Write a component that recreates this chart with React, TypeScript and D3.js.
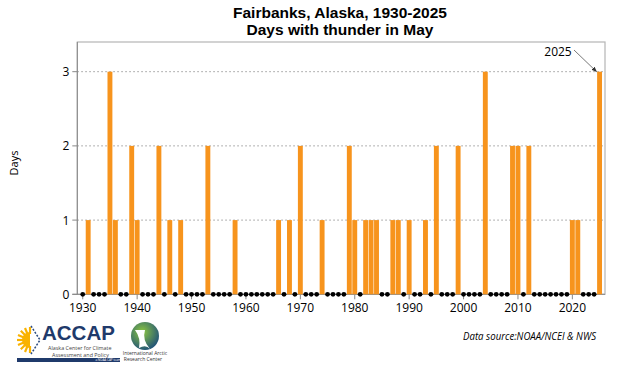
import React from "react";
import * as d3 from "d3";

const titleLines = ["Fairbanks, Alaska, 1930-2025", "Days with thunder in May"];
const startYear = 1930;
// Days with thunder in May, 1930..2025 (one per year)
const thunderDays = [
  0, 1, 0, 0, 0, 3, 1, 0, 0, 2, // 1930s
  1, 0, 0, 0, 2, 0, 1, 0, 1, 0, // 1940s
  0, 0, 0, 2, 0, 0, 0, 0, 1, 0, // 1950s
  0, 0, 0, 0, 0, 0, 1, 0, 1, 0, // 1960s
  2, 0, 0, 0, 1, 0, 0, 0, 0, 2, // 1970s
  1, 0, 1, 1, 1, 0, 0, 1, 1, 0, // 1980s
  1, 0, 0, 1, 0, 2, 0, 0, 0, 2, // 1990s
  0, 0, 0, 0, 3, 0, 0, 0, 0, 2, // 2000s
  2, 0, 2, 0, 0, 0, 0, 0, 0, 0, // 2010s
  1, 1, 0, 0, 0, 3,             // 2020s
];
const years = thunderDays.map((_, i) => startYear + i);
const xTicks = [1930, 1940, 1950, 1960, 1970, 1980, 1990, 2000, 2010, 2020];
const yTicks = [0, 1, 2, 3];
const yLabel = "Days";
const annotationYear = 2025;
const sourceText = "Data source:NOAA/NCEI & NWS";

const W = 620;
const H = 372;
const plot = { left: 77.3, right: 605, top: 42, bottom: 294.3 };

export default function App() {
  const x = d3.scaleLinear().domain([1929, 2026]).range([plot.left, plot.right]);
  const y = d3.scaleLinear().domain([0, 3.4]).range([plot.bottom, plot.top]);
  const bw = (x(1931) - x(1930)) * 0.9;
  const font = "'Liberation Sans', Arial, sans-serif";
  const tickFont = "'Open Sans', 'Liberation Sans', sans-serif";
  const data = years.map((yr, i) => ({ yr, v: thunderDays[i] }));
  const annIdx = years.indexOf(annotationYear);
  const ax = x(annotationYear);
  const ay = y(thunderDays[annIdx]);

  return (
    <svg width={W} height={H} style={{ position: "absolute", left: 0, top: 0, background: "#fff" }}>
      <defs>
        <marker id="arr" viewBox="0 0 10 10" refX="9" refY="5" markerWidth="7" markerHeight="7" orient="auto">
          <path d="M0,1 L10,5 L0,9 z" fill="#333" />
        </marker>
        <radialGradient id="globe" cx="0.4" cy="0.35" r="0.7">
          <stop offset="0" stopColor="#8cc63f" />
          <stop offset="1" stopColor="#1d4f7a" />
        </radialGradient>
      </defs>
      {/* Title */}
      {titleLines.map((t, i) => (
        <text key={t} x={340} y={18 + i * 17} textAnchor="middle" fontFamily={font} fontWeight="bold" fontSize={15.5} fill="#000">
          {t}
        </text>
      ))}
      {/* Gridlines */}
      {yTicks.filter((t) => t > 0).map((t) => (
        <line key={t} x1={plot.left} x2={plot.right} y1={y(t)} y2={y(t)} stroke="#999" strokeWidth={1} strokeDasharray="1.5,2.5" />
      ))}
      {/* Frame */}
      <rect x={plot.left} y={plot.top} width={plot.right - plot.left} height={plot.bottom - plot.top} fill="none" stroke="#b5b5b5" strokeWidth={1.2} />
      <line x1={plot.left} x2={plot.left} y1={plot.top} y2={plot.bottom} stroke="#888" strokeWidth={1} />
      <line x1={plot.left - 5} x2={plot.right} y1={plot.bottom} y2={plot.bottom} stroke="#888" strokeWidth={1} />
      {/* Y ticks */}
      {yTicks.map((t) => (
        <g key={t}>
          <line x1={plot.left - 5} x2={plot.left} y1={y(t)} y2={y(t)} stroke="#888" />
          <text x={plot.left - 8} y={y(t) + 4.5} textAnchor="end" fontFamily={tickFont} fontSize={12} fill="#000">{t}</text>
        </g>
      ))}
      {/* X ticks */}
      {xTicks.map((t) => (
        <g key={t}>
          <line x1={x(t)} x2={x(t)} y1={plot.bottom} y2={plot.bottom + 5} stroke="#888" />
          <text x={x(t)} y={plot.bottom + 18} textAnchor="middle" fontFamily={tickFont} fontSize={12} fill="#000">{t}</text>
        </g>
      ))}
      {/* Bars */}
      {data.filter((d) => d.v > 0).map((d) => (
        <rect key={d.yr} x={x(d.yr) - bw / 2} y={y(d.v)} width={bw} height={y(0) - y(d.v)} fill="#F7941D" />
      ))}
      {/* Zero dots */}
      {data.filter((d) => d.v === 0).map((d) => (
        <circle key={d.yr} cx={x(d.yr)} cy={y(0)} r={2.4} fill="#000" />
      ))}
      {/* Y label */}
      <text transform={`translate(18,163) rotate(-90)`} textAnchor="middle" fontFamily={tickFont} fontSize={11} fill="#000">{yLabel}</text>
      {/* Annotation */}
      <text x={558} y={56} textAnchor="middle" fontFamily={tickFont} fontSize={12} fill="#000">{annotationYear}</text>
      <line x1={574} y1={50} x2={ax - 3} y2={ay} stroke="#555" strokeWidth={0.8} markerEnd="url(#arr)" />
      {/* Source */}
      <text x={596} y={340} textAnchor="end" fontFamily={tickFont} fontStyle="italic" fontSize={10.5} textLength={133} lengthAdjust="spacingAndGlyphs" fill="#000">{sourceText}</text>
      {/* ACCAP logo */}
      <g>
        {d3.range(9).map((i) => {
          const a = Math.PI / 2 + (i * Math.PI) / 8;
          return (
            <line key={i} x1={30 + Math.cos(a) * 6} y1={340 - Math.sin(a) * 6} x2={30 + Math.cos(a) * 13} y2={340 - Math.sin(a) * 13} stroke="#f9b200" strokeWidth={2.2} />
          );
        })}
        <path d="M30,332 A8,8 0 0,0 30,348 Z" fill="#f9b200" />
        <path d="M31,326 L40,340 L31,354" fill="none" stroke="#2a4a7f" strokeWidth={1.5} strokeDasharray="2,1.5" />
        <text x={42} y={340} fontFamily={font} fontWeight="bold" fontSize={20.5} fill="#1f3a6b">ACCAP</text>
        <text x={48} y={350} fontFamily={tickFont} fontSize={5.4} fill="#444">Alaska Center for Climate</text>
        <text x={52} y={356.5} fontFamily={tickFont} fontSize={5.4} fill="#444">Assessment and Policy</text>
        <rect x={17} y={358} width={103} height={4} fill="#1f3a6b" />
        <text x={108} y={361.3} textAnchor="middle" fontFamily={tickFont} fontSize={3} fill="#fff">a NOAA CAP team</text>
      </g>
      {/* IARC logo */}
      <g>
        <circle cx={145} cy={336} r={14} fill="url(#globe)" />
        <path d="M135,330 Q141,338 139,348 Q146,344 150,349 Q142,340 145,330 Z" fill="#fff" />
        <text x={145} y={355} textAnchor="middle" fontFamily={tickFont} fontSize={5} fill="#333">International Arctic</text>
        <text x={143} y={361} textAnchor="middle" fontFamily={tickFont} fontSize={5} fill="#333">Research Center</text>
      </g>
    </svg>
  );
}
